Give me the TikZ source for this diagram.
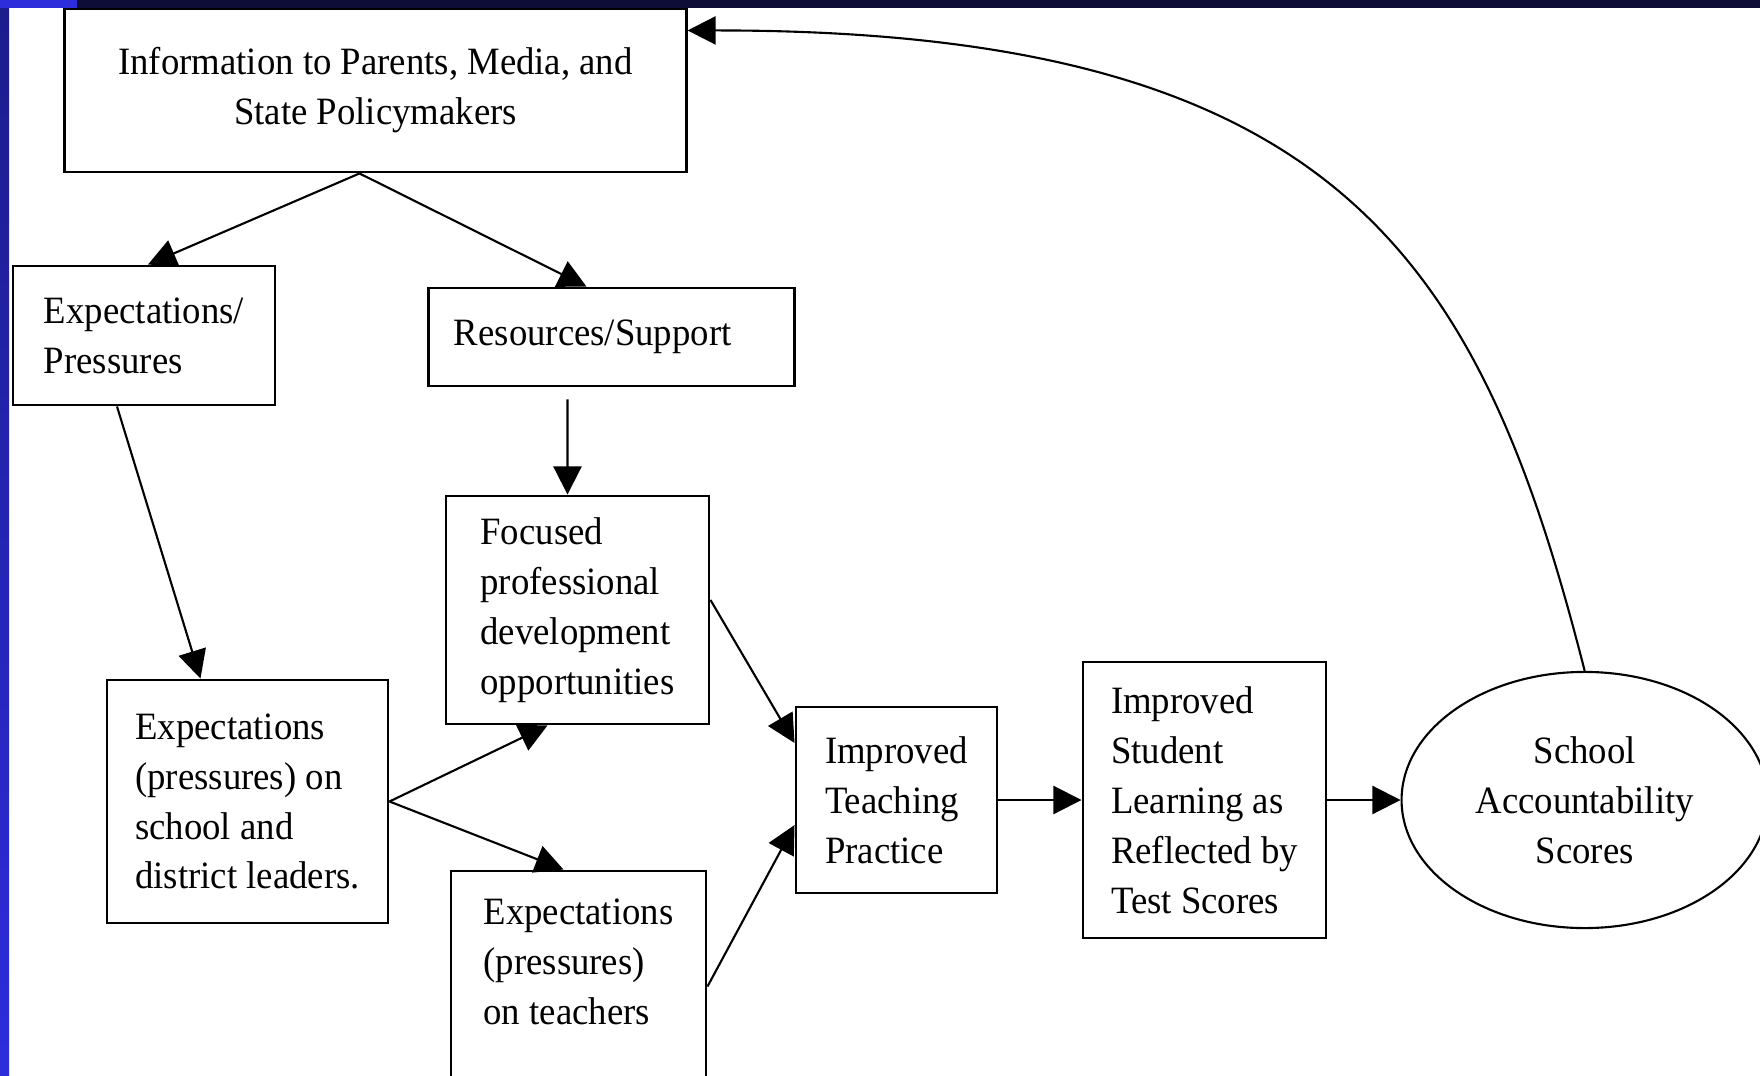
\documentclass[tikz,border=0pt]{standalone}
\usepackage{fontspec}
\setmainfont{Liberation Serif}[FakeStretch=0.95]
\usetikzlibrary{positioning,arrows.meta,shapes.geometric}
\definecolor{navy}{RGB}{13,13,56}
\definecolor{edgeblue}{RGB}{45,45,220}
\definecolor{edgedark}{RGB}{28,28,140}

\begin{document}
\begin{tikzpicture}[
  x=0.01cm, y=-0.01cm,
  font=\fontsize{11}{14.2}\selectfont,
  >={Triangle[length=8pt,width=8pt]},
  box/.style={draw, line width=0.8pt, inner xsep=0.25cm, inner ysep=0pt, align=left},
  oval/.style={draw, ellipse, line width=0.6pt, inner sep=0pt, align=center},
  arr/.style={->, line width=0.6pt},
]
\clip (0,0) rectangle (1760,1076);
\fill[white] (0,0) rectangle (1760,1076);
\shade[top color=edgedark, bottom color=edgeblue] (0,0) rectangle (9,1076);
\fill[navy] (77,0) rectangle (1760,8);
\fill[edgeblue] (0,0) rectangle (77,8);

\node[box, align=center, minimum width=6.21cm, minimum height=1.63cm] (info) at (375.5,90.5)
  {Information to Parents, Media, and\\State Policymakers};
\node[box, minimum width=2.62cm, minimum height=1.39cm] (exppress) at (144,335.5)
  {Expectations/\\Pressures};
\node[box, text width=3.15cm, minimum height=0.98cm] (resources) at (611.5,337)
  {Resources/Support};
\node[box, minimum width=2.63cm, minimum height=2.28cm] (focused) at (577.5,610)
  {Focused\\professional\\development\\opportunities};
\node[box, minimum width=2.81cm, minimum height=2.43cm] (school) at (247.5,801.5)
  {Expectations\\(pressures) on\\school and\\district leaders.};
\node[box, minimum width=2.55cm, minimum height=2.31cm] (teachers) at (578.5,986.5)
  {Expectations\\(pressures)\\on teachers\\~};

\node[box, minimum width=2.01cm, minimum height=1.86cm] (teaching) at (896.5,800)
  {Improved\\Teaching\\Practice};
\node[box, minimum width=2.43cm, minimum height=2.76cm, right=0.83cm of teaching] (student)
  {Improved\\Student\\Learning as\\Reflected by\\Test Scores};
\node[oval, minimum width=3.66cm, minimum height=2.56cm, right=0.73cm of student] (score)
  {School\\Accountability\\Scores};

\draw[arr] ([xshift=-0.16cm]info.south) -- ([xshift=0.04cm]exppress.north);
\draw[arr] ([xshift=-0.16cm]info.south) -- ([xshift=-0.25cm]resources.north);
\draw[arr] ([xshift=-0.27cm]exppress.south) -- ([xshift=-0.47cm]school.north);
\draw[arr, shorten <=0.12cm] ([xshift=-0.44cm]resources.south) -- ([xshift=-0.10cm]focused.north);
\draw[arr] (school.east) -- ([xshift=-0.30cm]focused.south);
\draw[arr] (school.east) -- ([xshift=-0.15cm]teachers.north);
\draw[arr] ([yshift=0.10cm]focused.east) -- ([yshift=0.57cm]teaching.west);
\draw[arr] (teachers.east) -- ([yshift=-0.25cm]teaching.west);
\draw[arr] (teaching) -- (student);
\draw[arr] (student) -- (score);
\draw[arr] (score.north) .. controls (1480,260) and (1340,30) .. ([yshift=0.60cm]info.east);
\end{tikzpicture}
\end{document}
